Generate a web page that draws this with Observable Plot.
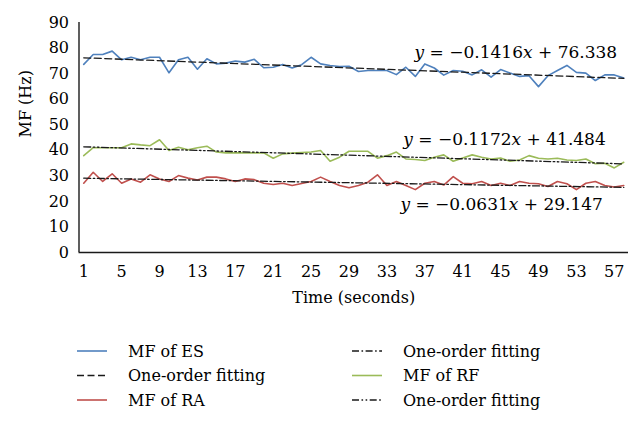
<!DOCTYPE html>
<html><head><meta charset="utf-8">
<script src="https://cdn.jsdelivr.net/npm/d3@7"></script>
<script src="https://cdn.jsdelivr.net/npm/@observablehq/plot@0.6"></script>
<style>
body{margin:0;background:#fff;}
#chart{width:643px;height:432px;position:relative;font-family:"DejaVu Serif",serif;background:#fff;}
#chart svg{display:block;}
</style></head><body><div id="chart"></div>
<script>
// ---- data ----
const seconds = [1,2,3,4,5,6,7,8,9,10,11,12,13,14,15,16,17,18,19,20,21,22,23,24,25,26,27,28,29,30,
  31,32,33,34,35,36,37,38,39,40,41,42,43,44,45,46,47,48,49,50,51,52,53,54,55,56,57,58];
const mfES = [73.6,77.5,77.5,78.8,75.4,76.4,75.4,76.4,76.4,70.3,75.4,76.4,71.7,75.8,73.8,74.1,74.9,74.5,75.6,72.3,
  72.5,73.6,72.2,73.5,76.4,73.8,73.2,72.8,72.9,70.8,71.2,71.2,71.2,69.6,72.5,68.9,73.8,72.2,69.4,71.2,
  70.9,69.5,71.5,68.6,71.6,70.2,68.9,69.2,64.9,69.2,71.2,73.2,70.5,70.2,67.3,69.5,69.5,68.3];
const mfRF = [37.9,41.0,41.0,41.0,41.0,42.5,42.1,41.8,44.1,39.9,41.2,40.2,41.0,41.6,39.3,39.0,39.0,39.0,39.0,39.0,
  36.9,38.6,38.9,39.1,39.3,39.9,35.7,37.3,39.6,39.6,39.6,36.9,37.9,39.3,36.6,36.4,36.0,37.3,38.2,35.7,
  37.0,38.2,37.3,36.6,37.0,35.7,36.2,37.9,36.9,36.6,36.9,36.2,36.0,36.6,34.7,34.9,33.1,35.3];
const mfRA = [27.1,31.4,27.8,30.8,27.1,28.8,27.5,30.4,28.8,27.8,30.1,29.1,28.4,29.5,29.5,28.8,27.8,28.8,28.5,27.1,
  26.6,27.1,26.2,27.0,27.8,29.5,27.8,26.2,25.3,26.2,27.5,30.4,26.2,27.8,26.2,24.6,27.1,27.8,26.4,29.7,
  27.1,26.9,27.8,26.2,27.1,26.2,27.8,27.1,26.9,25.8,27.8,26.9,24.6,27.1,27.8,26.2,25.6,26.2];
const fitNames = ["ES", "RF", "RA"];
const fitSlopes = [-0.1416, -0.1172, -0.0631];
const fitIntercepts = [76.338, 41.484, 29.147];
const fitLabels = ["y = \u22120.1416x + 76.338", "y = \u22120.1172x + 41.484", "y = \u22120.0631x + 29.147"];
const labelX = [57.3, 56.1, 55.8];
const labelY = [76.3, 41.9, 16.8];
const xTicks = [1,5,9,13,17,21,25,29,33,37,41,45,49,53,57];
const yTicks = [0,10,20,30,40,50,60,70,80,90];
const legendLabels = ["MF of ES","One-order fitting","MF of RA","One-order fitting","MF of RF","One-order fitting"];

// ---- build tables ----
const toRows = (vals) => seconds.map((t, i) => ({t, v: vals[i]}));
const fitRows = (k) => [seconds[0], seconds[seconds.length-1]].map(t => ({t, v: fitSlopes[k]*t + fitIntercepts[k]}));
const annot = fitLabels.map((s, i) => ({x: labelX[i], y: labelY[i], s}));

const BLUE = "#4f81bd", RED = "#c0504d", GREEN = "#9bbb59", INK = "#1a1a1a";
const DASH = "7,3.5", DASHDOT = "7,2.5,1.6,2.5", DASHDOTDOT = "7,2.5,1.6,2.5,1.6,2.5";
const FONT = '"DejaVu Serif", serif';
const W = 643, H = 322;

const plot = Plot.plot({
  width: W, height: H,
  marginLeft: 78.5, marginRight: 15, marginTop: 22, marginBottom: H - 252,
  style: {fontFamily: FONT, fontSize: "16px", color: "#000", background: "#fff", overflow: "visible"},
  x: {domain: [0.5, 58.5], ticks: xTicks, tickSize: 0, tickPadding: 13, label: null, tickFormat: d => String(d)},
  y: {domain: [0, 90], ticks: yTicks, tickSize: 0, tickPadding: 10, label: null},
  marks: [
    Plot.lineY(toRows(mfES), {x: "t", y: "v", stroke: BLUE, strokeWidth: 1.6}),
    Plot.lineY(toRows(mfRF), {x: "t", y: "v", stroke: GREEN, strokeWidth: 1.6}),
    Plot.lineY(toRows(mfRA), {x: "t", y: "v", stroke: RED, strokeWidth: 1.6}),
    Plot.lineY(fitRows(0), {x: "t", y: "v", stroke: INK, strokeWidth: 1.3, strokeDasharray: DASH}),
    Plot.lineY(fitRows(1), {x: "t", y: "v", stroke: INK, strokeWidth: 1.3, strokeDasharray: DASHDOTDOT}),
    Plot.lineY(fitRows(2), {x: "t", y: "v", stroke: INK, strokeWidth: 1.3, strokeDasharray: DASHDOT}),
    Plot.ruleX([0.5], {stroke: INK, strokeWidth: 1.4}),
    Plot.ruleY([0], {stroke: INK, strokeWidth: 1.4}),
    Plot.text(annot, {x: "x", y: "y", text: "s", textAnchor: "end", lineAnchor: "bottom", fontSize: 17, fill: "#000", className: "eq"}),
    Plot.text(["Time (seconds)"], {frameAnchor: "bottom", dy: 50, fontSize: 16, fill: "#000"}),
    Plot.text(["MF (Hz)"], {frameAnchor: "left", dx: -53, rotate: -90, fontSize: 16, fill: "#000"})
  ]
});

// italic y and x in the equations
d3.select(plot).selectAll(".eq text").each(function() {
  const s = this.textContent;
  const m = s.match(/^(y)( = .*?)(x)( \+ .*)$/);
  if (!m) return;
  const t = d3.select(this); t.text(null);
  t.append("tspan").attr("font-style", "italic").text(m[1]);
  t.append("tspan").text(m[2]);
  t.append("tspan").attr("font-style", "italic").text(m[3]);
  t.append("tspan").text(m[4]);
});

const chart = document.getElementById("chart");
chart.appendChild(plot);

// ---- legend ----
const LH = 432 - H;
const leg = d3.create("svg").attr("width", W).attr("height", LH)
  .style("font-family", FONT).style("font-size", "16px");
const items = [
  {c: BLUE, d: null, col: 0, row: 0},
  {c: INK, d: DASH, col: 0, row: 1},
  {c: RED, d: null, col: 0, row: 2},
  {c: INK, d: DASHDOT, col: 1, row: 0},
  {c: GREEN, d: null, col: 1, row: 1},
  {c: INK, d: DASHDOTDOT, col: 1, row: 2}
];
const colX = [77, 352], rowY = [351 - H, 375.5 - H, 400 - H];
items.forEach((it, i) => {
  const g = leg.append("g");
  g.append("line").attr("x1", colX[it.col]).attr("x2", colX[it.col] + 30)
    .attr("y1", rowY[it.row]).attr("y2", rowY[it.row])
    .attr("stroke", it.c).attr("stroke-width", it.d ? 1.3 : 1.6)
    .attr("stroke-dasharray", it.d);
  g.append("text").attr("x", colX[it.col] + 51).attr("y", rowY[it.row]).attr("dy", "0.35em")
    .attr("fill", "#000").text(legendLabels[i]);
});
chart.appendChild(leg.node());
</script></body></html>
